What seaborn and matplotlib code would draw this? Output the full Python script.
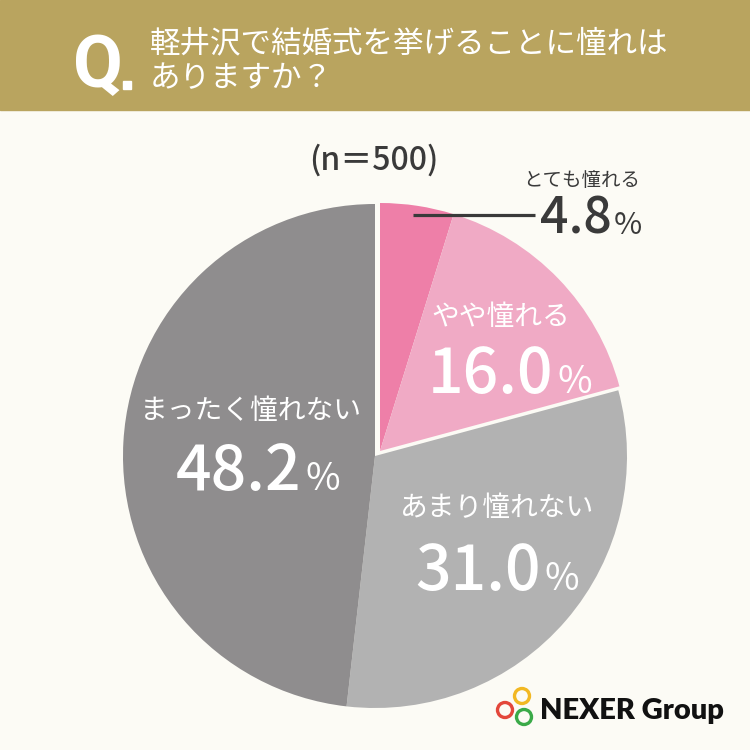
import matplotlib
matplotlib.use("Agg")
import matplotlib.pyplot as plt
import seaborn as sns
from matplotlib.patches import Rectangle, Circle

# === data ===
labels = ["とても憧れる", "やや憧れる", "あまり憧れない", "まったく憧れない"]
values = [4.8, 16.0, 31.0, 48.2]
pct_text = ["4.8", "16.0", "31.0", "48.2"]
colors = ["#EE7FA8", "#F0AAC5", "#B2B2B2", "#8F8D8E"]
question = ["軽井沢で結婚式を挙げることに憧れは", "ありますか？"]
sample = "(n＝500)"

BG = "#FCFBF5"
GOLD = "#B9A45F"
DARK = "#3A3A3A"
JP = ["Noto Sans CJK JP", "DejaVu Sans"]

sns.set_theme(style="white")
plt.rcParams["font.family"] = JP

W = 750
fig = plt.figure(figsize=(7.5, 7.5), dpi=100, facecolor=BG)
ax = fig.add_axes([0, 0, 1, 1])
ax.set_facecolor(BG)


def Y(py):
    # pixel row (from top) -> data y
    return W - py


# === pie ===
cx, cy, R = 375, Y(456), 252
wedges, _ = ax.pie(values, colors=colors, startangle=90, counterclock=False,
                   radius=R, center=(cx, cy), wedgeprops=dict(linewidth=0))
# pink group is pulled out a little
for w in wedges[:2]:
    w.set_center((cx + 5, cy + 5))
    w.set_radius(R - 4)

ax.set_xlim(0, W)
ax.set_ylim(0, W)
ax.set_aspect("equal")
ax.axis("off")

# === header ===
ax.add_patch(Rectangle((0, Y(110)), W, 110, color=GOLD, zorder=0.5))
ax.text(73, Y(87), "Q", family=["Roboto", "DejaVu Sans"], fontweight="bold",
        fontsize=52, color="white", ha="left", va="baseline")
ax.add_patch(Rectangle((123, Y(89)), 8, 8, color="white"))
ax.text(150, Y(44), question[0], fontsize=22, color="white", ha="left", va="center")
ax.text(150, Y(79), question[1], fontsize=22, color="white", ha="left", va="center")

ax.text(374, Y(160), sample, fontsize=23, color=DARK, ha="center", va="center",
        fontweight="medium")

# === labels ===
renderer = fig.canvas.get_renderer()


def pct_label(xc, base, num, color, size_num, size_pct, gap=4):
    t1 = ax.text(0, Y(base), num, fontsize=size_num, color=color, ha="left",
                 va="baseline", fontweight="medium")
    t2 = ax.text(0, Y(base), "%", fontsize=size_pct, color=color, ha="left",
                 va="baseline")
    w1 = t1.get_window_extent(renderer).width
    w2 = t2.get_window_extent(renderer).width
    x0 = xc - (w1 + gap + w2) / 2
    t1.set_x(x0)
    t2.set_x(x0 + w1 + gap)


# small slice: label outside with leader line
ax.text(582, Y(181), labels[0], fontsize=14, color=DARK, ha="center", va="center")
pct_label(591, 234, pct_text[0], DARK, 36, 22, gap=2)
ax.plot([413, 535], [Y(215), Y(215)], color=DARK, lw=2.3, solid_capstyle="butt")

ax.text(501, Y(317), labels[1], fontsize=20, color="white", ha="center", va="center")
pct_label(510, 393, pct_text[1], "white", 45, 27)

ax.text(497, Y(508), labels[2], fontsize=20, color="white", ha="center", va="center")
pct_label(497, 590, pct_text[2], "white", 45, 27)

ax.text(251, Y(411), labels[3], fontsize=20, color="white", ha="center", va="center")
pct_label(258, 490, pct_text[3], "white", 45, 27)

# === logo ===
for (lx, ly, c) in [(505, 710, "#E3473B"), (524, 717, "#3AAA48"), (522, 696, "#F2B823")]:
    ax.add_patch(Circle((lx, Y(ly)), 7.5, fill=False, lw=2.4, color=c))
ax.text(540, Y(711), "NEXER Group", family=["Lato", "DejaVu Sans"], fontweight="heavy",
        fontsize=21, color="#111111", ha="left", va="center")

fig.savefig("out.png", dpi=100, facecolor=BG)
